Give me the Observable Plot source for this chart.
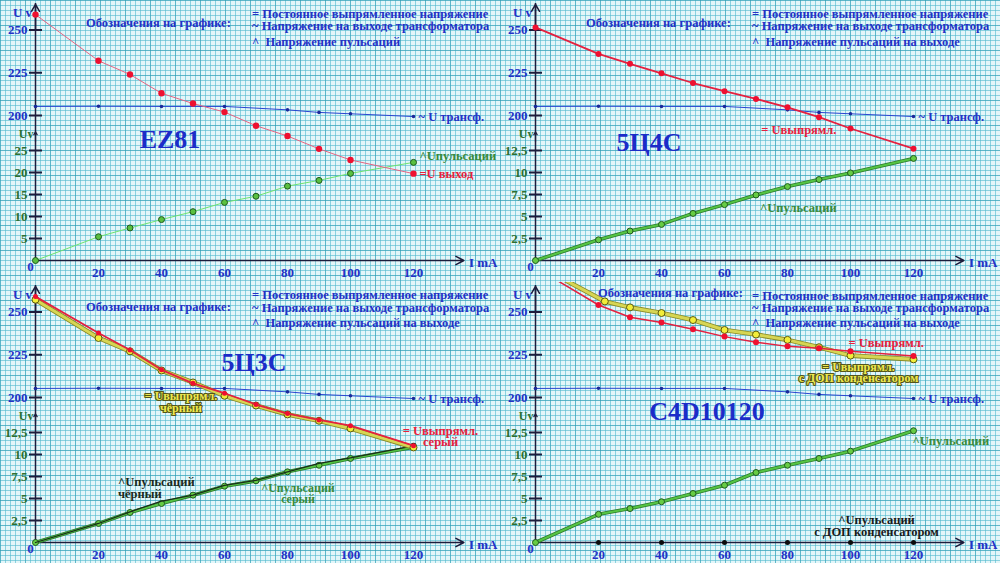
<!DOCTYPE html>
<html><head><meta charset="utf-8">
<script src="https://cdn.jsdelivr.net/npm/d3@7"></script>
<script src="https://cdn.jsdelivr.net/npm/@observablehq/plot@0.6"></script>
<style>
html,body{margin:0;padding:0;}
body{width:1000px;height:563px;overflow:hidden;}
#root{position:relative;width:1000px;height:563px;background-color:#e3f6f9;
background-image:
 linear-gradient(to right, rgba(40,150,175,0.45) 1px, transparent 1px),
 linear-gradient(to bottom, rgba(40,150,175,0.45) 1px, transparent 1px),
 linear-gradient(to right, rgba(80,185,205,0.6) 1px, transparent 1px),
 linear-gradient(to bottom, rgba(80,185,205,0.6) 1px, transparent 1px);
background-size:25px 25px,25px 25px,5px 5px,5px 5px;}
.panel{position:absolute;width:500px;overflow:hidden;font-family:"Liberation Serif","DejaVu Serif",serif;font-weight:bold;}
.panel svg{position:absolute;left:0;top:0;}
.t{position:absolute;white-space:pre;transform:translateY(-50%);line-height:1;}
</style></head><body><div id="root"></div><script>
// ---- data ----
const mA = [0,20,30,40,50,60,70,80,90,100,120];
const transMA = [0,20,40,60,80,90,100,120];
const transV = [205.3,205.4,205.3,205.3,203.3,201.8,201,199.4];
const ez81Out = [259,232,224,213,207,202,194,188,180.5,174,166];
const ez81Ripple = [0,5.4,7.4,9.3,11.1,13.2,14.6,16.9,18.2,19.8,22.3];
const u4cOut = [251.5,236,230.2,224.7,219,214.2,209.7,204.8,199,192.4,180.6];
const u4cRipple = [0,2.35,3.35,4.1,5.35,6.35,7.45,8.4,9.2,9.95,11.6];
const u3cGreyOut = [259,237.7,227.8,216.2,208.3,202.5,195.9,190.6,186.9,183.5,171.8];
const u3cBlackOut = [257.2,234.8,227,215.8,208.8,201,195.3,190.1,186.4,181.9,170.8];
const u3cGreyRipple = [0,2.16,3.41,4.43,5.38,6.4,7.01,8.03,8.78,9.55,10.83];
const u3cBlackRipple = [0,2.16,3.49,4.69,5.38,6.5,7.07,8.03,8.98,9.62,10.99];
const c4dOut = [276,254.1,246.9,243.8,239.9,235.6,232.3,229.9,228.8,227,224.3];
const c4dCapMA = [0,22,30,40,50,60,70,80,90,100,120];
const c4dCapOut = [278,256.2,252.7,249.4,245.3,239.5,236.8,233.7,229.4,224.5,222.3];
const c4dRipple = [0,3.2,3.86,4.63,5.57,6.51,7.95,8.78,9.55,10.38,12.7];
const c4dCapRippleMA = [20,40,60,80,100,120];
const c4dCapRipple = [0,0,0,0,0,0];
const upperTicks = [200,225,250];
const xTicks = [20,40,60,80,100,120];
const ripple25Ticks = [5,10,15,20,25];
const ripple12Ticks = [2.5,5,7.5,10,12.5];
const legendHeader = "Обозначения на графике:";
const legendLine1 = "= Постоянное выпрямленное напряжение";
const legendLine2 = "~ Напряжение на выходе трансформатора";
const legendLine3a = "^\u00a0\u00a0Напряжение пульсаций";
const legendLine3b = "^\u00a0\u00a0Напряжение пульсаций на выходе";

// ---- helpers ----
const FONT = '"Liberation Serif","DejaVu Serif",serif';
const BLUE = '#2431c6', GREEN_T = '#2f6f2f', RED_T = '#e8203c', AXIS = '#1d1d3c';
const zip = (xs, ys) => xs.map((x, i) => ({x, y: ys[i]}));
const fmt = d => String(d).replace('.', ',');
const dash = {draw(ctx, size){ const r = Math.sqrt(size / Math.PI); ctx.moveTo(-r, 0); ctx.lineTo(r, 0); }};
const txt = (data, o) => Plot.text(data, {fontFamily: FONT, fontWeight: 'bold', fontSize: 13, ...o});

const S = {
  trans: {color:'#2a44d0', w:1, r:1.8, dotFill:'#1a2a9a'},
  redThin: {color:'#e66482', w:1, r:3.2, dotFill:'#ee1030'},
  red: {color:'#e4203f', w:1.8, r:3, dotFill:'#ee1030'},
  greenThin: {color:'#6ee46e', w:1, r:3, dotFill:'#5ac040', dotStroke:'#1e5a1e'},
  green: {color:'#55c544', edge:'#2d7a2d', w:2, r:3, dotFill:'#66cc44', dotStroke:'#1e5a1e'},
  yellow: {color:'#d6d654', edge:'#8a8a26', w:3, r:3.5, dotFill:'#f2ee3a', dotStroke:'#5a5a10'},
  black: {color:'#1a2e1a', w:1.3, r:2.5, dotFill:'#0c180c'},
  blackDots: {color:'none', w:0, r:2.5, dotFill:'#0c0c0c'}
};
function seriesMarks(data, s){
  const m = [];
  if (s.edge) m.push(Plot.line(data, {x:'x', y:'y', stroke:s.edge, strokeWidth:s.w + 1.6}));
  if (s.w) m.push(Plot.line(data, {x:'x', y:'y', stroke:s.color, strokeWidth:s.w}));
  if (s.r) m.push(Plot.dot(data, {x:'x', y:'y', r:s.r, fill:s.dotFill, stroke:s.dotStroke || 'none', strokeWidth:1}));
  return m;
}
function makePlot(h, yDomain, yRange, marks){
  return Plot.plot({width:500, height:h, marginLeft:35, marginRight:87, marginTop:3, marginBottom:h - 260,
    x:{domain:[0,120], range:[35,413], axis:null},
    y:{domain:yDomain, range:yRange, axis:null},
    style:{background:'transparent', overflow:'visible'},
    marks});
}
const root = document.getElementById('root');
function addText(div, text, x, y, css){
  const s = document.createElement('div'); s.className = 't'; s.textContent = text;
  s.style.left = x + 'px'; s.style.top = y + 'px';
  Object.assign(s.style, css || {});
  div.appendChild(s); return s;
}
function addPanel(cfg){
  const div = document.createElement('div'); div.className = 'panel';
  div.style.left = cfg.left + 'px'; div.style.top = cfg.top + 'px'; div.style.height = cfg.h + 'px';
  root.appendChild(div);
  const transData = zip(transMA, transV);
  const lowMax = cfg.lowerTicks[cfg.lowerTicks.length - 1];
  const lower = makePlot(cfg.h, [0, lowMax], [260, 150], [
    Plot.ruleX([0], {stroke:AXIS, strokeWidth:1.5}),
    Plot.arrow([0], {x1:0, y1:0, x2:136, y2:0, stroke:AXIS, strokeWidth:1.5, headLength:9, headAngle:55}),
    Plot.arrow([0], {x1:0, x2:0, y1:lowMax * 1.08, y2:lowMax * 1.17, stroke:AXIS, strokeWidth:1.2, headLength:6, headAngle:60}),
    Plot.dot(cfg.lowerTicks, {x:0, y:d => d, symbol:dash, r:6.5, fill:'none', stroke:AXIS, strokeWidth:2}),
    txt(cfg.lowerTicks, {x:0, y:d => d, text:fmt, textAnchor:'end', dx:-8, fill:GREEN_T}),
    txt(xTicks, {x:d => d, y:0, text:d => String(d), dy:12, fill:BLUE}),
    txt([0], {x:0, y:0, text:d => String(d), dx:-5, dy:6, fill:BLUE}),
    txt([0], {x:136, y:0, text:() => 'I mA', textAnchor:'start', dx:5, dy:2, fill:BLUE, fontSize:13}),
    txt([0], {x:0, y:lowMax * 1.17, text:() => 'Uv', textAnchor:'end', dx:-2, dy:2, fill:GREEN_T, fontSize:12}),
    ...cfg.lowerMarks
  ]);
  const upper = makePlot(cfg.h, [200, 250], [115, 29.5], [
    Plot.arrow([0], {x1:0, x2:0, y1:250, y2:265, stroke:AXIS, strokeWidth:1.5, headLength:8, headAngle:60}),
    Plot.dot(upperTicks, {x:0, y:d => d, symbol:dash, r:6.5, fill:'none', stroke:AXIS, strokeWidth:2}),
    txt(upperTicks, {x:0, y:d => d, text:d => String(d), textAnchor:'end', dx:-8, fill:BLUE}),
    txt([0], {x:0, y:260, text:() => 'U v', textAnchor:'middle', dx:-13, fill:BLUE}),
    ...seriesMarks(transData, S.trans),
    txt(transData.slice(-1), {x:'x', y:'y', text:() => '~ U трансф.', textAnchor:'start', dx:5, fill:BLUE, fontSize:12.5}),
    ...cfg.upperMarks
  ]);
  div.appendChild(lower); div.appendChild(upper);
  const lg = {color:BLUE, fontSize:'12.5px'};
  addText(div, legendHeader, cfg.legend[0], cfg.legend[1], lg);
  addText(div, legendLine1, 252, cfg.legend[2], lg);
  addText(div, legendLine2, 252, cfg.legend[3], lg);
  addText(div, cfg.legend3, 252, cfg.legend[4], lg);
  const t = addText(div, cfg.title, cfg.titlePos[0], cfg.titlePos[1], {color:'#1c2cc8', fontSize:'26px'});
  t.style.transform = 'translate(-50%,-50%)';
}

// ---- EZ81 ----
const ezOut = zip(mA, ez81Out), ezRip = zip(mA, ez81Ripple);
addPanel({left:0, top:0, h:282, lowerTicks:ripple25Ticks, title:'EZ81', titlePos:[170,140],
  legend:[86,23,14,26,42], legend3:legendLine3a,
  upperMarks:[...seriesMarks(ezOut, S.redThin),
    txt(ezOut.slice(-1), {x:'x', y:'y', text:() => '=U выход', textAnchor:'start', dx:6, fill:RED_T, fontSize:12.5})],
  lowerMarks:[...seriesMarks(ezRip, S.greenThin),
    txt(ezRip.slice(-1), {x:'x', y:'y', text:() => '^Uпульсаций', textAnchor:'start', dx:6, dy:-6, fill:'#3a8a3a', fontSize:12.5})]
});
// ---- 5Ц4С ----
const c4Out = zip(mA, u4cOut), c4Rip = zip(mA, u4cRipple);
addPanel({left:500, top:0, h:282, lowerTicks:ripple12Ticks, title:'5Ц4С', titlePos:[149,143],
  legend:[86,23,14,26,42], legend3:legendLine3b,
  upperMarks:[...seriesMarks(c4Out, S.red),
    txt([c4Out[9]], {x:'x', y:'y', text:() => '= Uвыпрямл.', textAnchor:'end', dx:-14, dy:2, fill:RED_T, fontSize:12.5})],
  lowerMarks:[...seriesMarks(c4Rip, S.green),
    txt([c4Rip[6]], {x:'x', y:'y', text:() => '^Uпульсаций', textAnchor:'start', dx:4, dy:13, fill:'#3a8a3a', fontSize:12.5})]
});
// ---- 5Ц3С ----
const c3Grey = zip(mA, u3cGreyOut), c3Black = zip(mA, u3cBlackOut);
const c3GreyR = zip(mA, u3cGreyRipple), c3BlackR = zip(mA, u3cBlackRipple);
addPanel({left:0, top:282, h:281, lowerTicks:ripple12Ticks, title:'5Ц3С', titlePos:[254,81],
  legend:[86,25,13,26,41], legend3:legendLine3b,
  upperMarks:[...seriesMarks(c3Black, S.yellow), ...seriesMarks(c3Grey, {...S.red, r:2.5}),
    txt([c3Black[4]], {x:'x', y:'y', text:() => '= Uвыпрямл.\nчёрный', textAnchor:'middle', dx:-12, dy:20, lineHeight:0.95,
      fill:'#eeea50', stroke:'#55551a', strokeWidth:2.2, paintOrder:'stroke', fontSize:12}),
    txt(c3Grey.slice(-1), {x:'x', y:'y', text:() => '= Uвыпрямл.\nсерый', textAnchor:'middle', dx:27, dy:-9, lineHeight:0.95, fill:RED_T, fontSize:12.5})],
  lowerMarks:[...seriesMarks(c3GreyR, S.green), ...seriesMarks(c3BlackR, {...S.black, r:0}),
    Plot.dot(c3BlackR.slice(-1), {x:'x', y:'y', r:3, fill:'#0c180c'}),
    txt([c3BlackR[2]], {x:'x', y:'y', text:() => '^Uпульсаций\nчёрный', textAnchor:'start', dx:-12, dy:-24, lineHeight:0.95, fill:'#1c2a1c', fontSize:12.5}),
    txt([c3GreyR[6]], {x:'x', y:'y', text:() => '^Uпульсаций\nсерый', textAnchor:'middle', dx:42, dy:13, lineHeight:0.95, fill:'#3a8a3a', fontSize:12})]
});
// ---- C4D10120 ----
const cdOut = zip(mA, c4dOut), cdCap = zip(c4dCapMA, c4dCapOut);
const cdRip = zip(mA, c4dRipple), cdCapR = zip(c4dCapRippleMA, c4dCapRipple);
addPanel({left:500, top:282, h:281, lowerTicks:ripple12Ticks, title:'C4D10120', titlePos:[207,130],
  legend:[98,11,14,26,41], legend3:legendLine3b,
  upperMarks:[...seriesMarks(cdCap, S.yellow), ...seriesMarks(cdOut, {...S.red, w:1.5}),
    txt([cdOut[9]], {x:'x', y:'y', text:() => '= Uвыпрямл.', textAnchor:'start', dx:-2, dy:-8, fill:RED_T, fontSize:12.5}),
    txt([cdCap[9]], {x:'x', y:'y', text:() => '= Uвыпрямл.\nс ДОП конденсатором', textAnchor:'middle', dx:8, dy:17, lineHeight:0.95,
      fill:'#eeea50', stroke:'#55551a', strokeWidth:2.2, paintOrder:'stroke', fontSize:12})],
  lowerMarks:[...seriesMarks(cdRip, S.green),
    ...seriesMarks(cdCapR, S.blackDots),
    txt(cdRip.slice(-1), {x:'x', y:'y', text:() => '^Uпульсаций', textAnchor:'start', dx:-1, dy:10, fill:'#3a8a3a', fontSize:12.5}),
    txt([cdCapR[4]], {x:'x', y:'y', text:() => '^Uпульсаций\nс ДОП конденсатором', textAnchor:'middle', dx:26, dy:-16, lineHeight:0.95, fill:'#1a1a1a', fontSize:12.5})]
});
</script></body></html>
